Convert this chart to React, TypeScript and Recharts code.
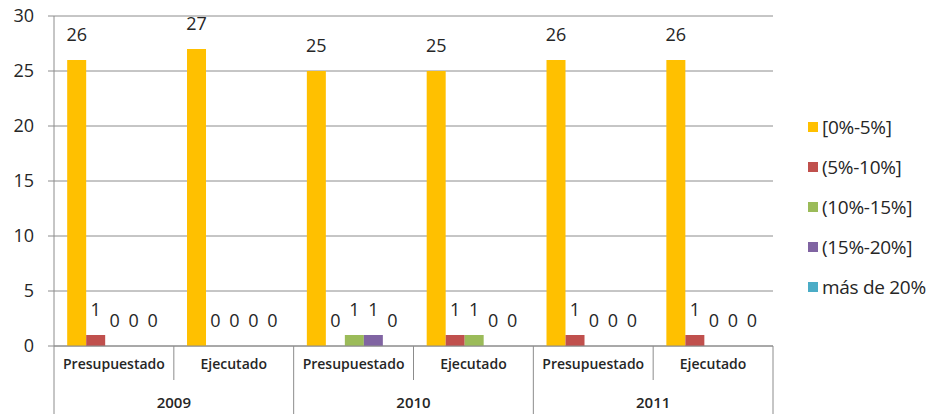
import { Bar, BarChart, CartesianGrid, LabelList, Legend, XAxis, YAxis } from "recharts";

const categories = ["Presupuestado", "Ejecutado", "Presupuestado", "Ejecutado", "Presupuestado", "Ejecutado"];
const years = ["2009", "2009", "2010", "2010", "2011", "2011"];
const seriesNames = ["[0%-5%]", "(5%-10%]", "(10%-15%]", "(15%-20%]", "más de 20%"];
const seriesColors = ["#FFC000", "#C0504D", "#9BBB59", "#8064A2", "#4BACC6"];
const range0to5 = [26, 27, 25, 25, 26, 26];
const range5to10 = [1, 0, 0, 1, 1, 1];
const range10to15 = [0, 0, 1, 1, 0, 0];
const range15to20 = [0, 0, 1, 0, 0, 0];
const over20 = [0, 0, 0, 0, 0, 0];
const yTicks = [0, 5, 10, 15, 20, 25, 30];

const seriesValues = [range0to5, range5to10, range10to15, range15to20, over20];
const data = categories.map((label, i) => {
  const row: Record<string, string | number> = { label, year: years[i] };
  seriesNames.forEach((name, s) => {
    row["s" + s] = seriesValues[s][i];
  });
  return row;
});

const W = 932;
const H = 414;
const LEFT = 54;
const LEGEND_W = 159;
const HALF = (W - LEFT - LEGEND_W) / categories.length / 2;
const FONT = "'Open Sans', sans-serif";
const GRAY = "#8c8c8c";
const TEXT = "#262626";

function CategoryTick(props: any) {
  const { x, y, payload } = props;
  const i = payload.index;
  return (
    <g>
      {i === 0 && <line x1={x - HALF} x2={x - HALF} y1={y} y2={y + 68} stroke={GRAY} />}
      <line x1={x + HALF} x2={x + HALF} y1={y} y2={y + (i % 2 === 0 ? 34 : 68)} stroke={GRAY} />
      <text x={x} y={y + 23} textAnchor="middle" fontFamily={FONT} fontSize={14} fontWeight={600} fill={TEXT}>
        {payload.value}
      </text>
    </g>
  );
}

function YearTick(props: any) {
  const { x, y, payload } = props;
  if (payload.index % 2 !== 0) return <g />;
  return (
    <text x={x + HALF} y={y + 28} textAnchor="middle" fontFamily={FONT} fontSize={15} fontWeight={600} fill={TEXT}>
      {payload.value}
    </text>
  );
}

function LegendBox() {
  return (
    <div style={{ paddingLeft: 35, fontFamily: FONT, fontSize: 19, color: TEXT }}>
      {seriesNames.map((name, s) => (
        <div key={name} style={{ display: "flex", alignItems: "center", height: 40 }}>
          <span style={{ width: 10, height: 10, background: seriesColors[s], marginRight: 4 }} />
          <span style={{ letterSpacing: -0.3 }}>{name}</span>
        </div>
      ))}
    </div>
  );
}

export default function App() {
  return (
    <div style={{ position: "fixed", left: 0, top: 0, width: W, height: H, background: "#fff" }}>
      <BarChart
        width={W}
        height={H}
        data={data}
        margin={{ top: 16, right: 0, left: 0, bottom: 0 }}
        barGap={0}
        barCategoryGap="11%"
      >
        <CartesianGrid vertical={false} stroke={GRAY} />
        <XAxis
          dataKey="label"
          interval={0}
          height={34}
          tickLine={false}
          tickSize={0}
          tickMargin={0}
          axisLine={{ stroke: GRAY }}
          tick={<CategoryTick />}
        />
        <XAxis
          xAxisId="year"
          dataKey="year"
          interval={0}
          height={34}
          tickLine={false}
          tickSize={0}
          tickMargin={0}
          axisLine={false}
          tick={<YearTick />}
        />
        <YAxis
          width={LEFT}
          domain={[0, 30]}
          ticks={yTicks}
          interval={0}
          tickSize={6}
          tickMargin={14}
          tickLine={{ stroke: GRAY }}
          axisLine={{ stroke: GRAY }}
          tick={{ fontFamily: FONT, fontSize: 18, fill: TEXT }}
        />
        <Legend
          layout="vertical"
          align="right"
          verticalAlign="middle"
          wrapperStyle={{ width: LEGEND_W }}
          content={<LegendBox />}
        />
        {seriesNames.map((name, s) => (
          <Bar
            key={name}
            dataKey={"s" + s}
            name={name}
            fill={seriesColors[s]}
            minPointSize={0.01}
            isAnimationActive={false}
          >
            <LabelList dataKey={"s" + s} position="top" offset={19} fontFamily={FONT} fontSize={18} fill={TEXT} />
          </Bar>
        ))}
      </BarChart>
    </div>
  );
}
